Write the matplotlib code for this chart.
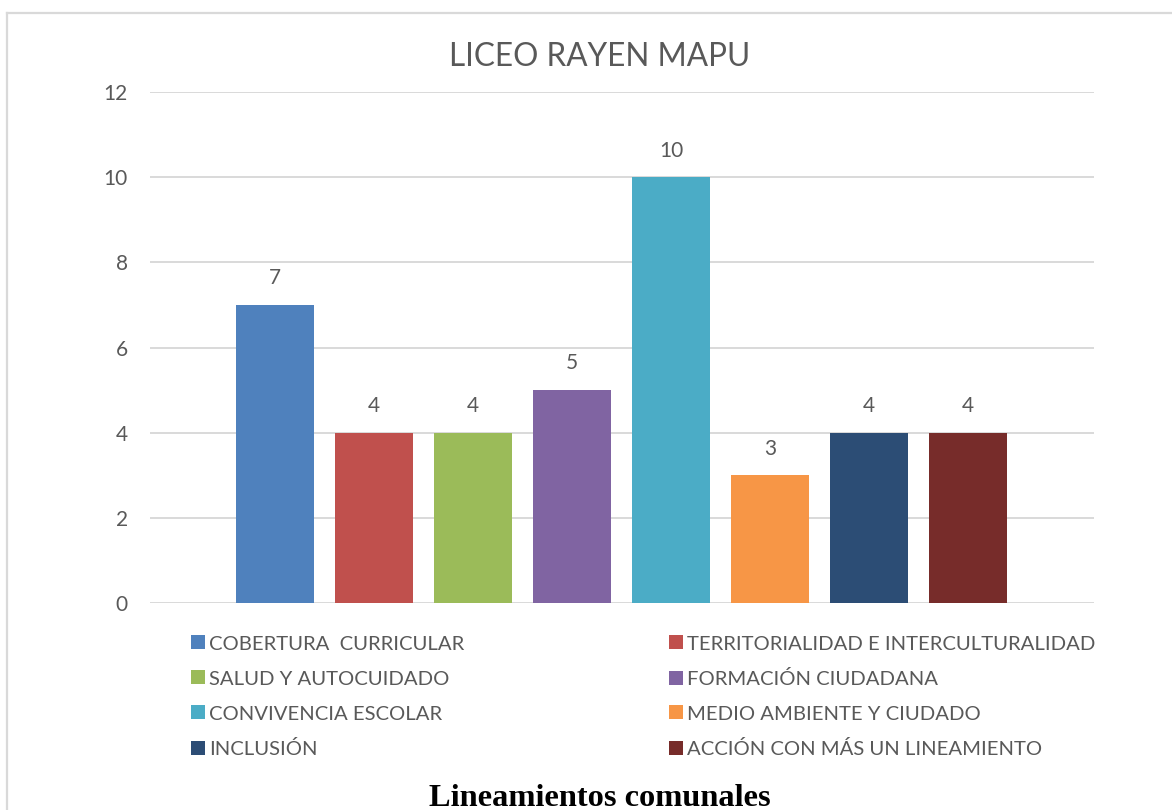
import matplotlib
matplotlib.use('Agg')
import matplotlib.pyplot as plt
from matplotlib.lines import Line2D

# data
labels = ['COBERTURA  CURRICULAR', 'TERRITORIALIDAD E INTERCULTURALIDAD',
          'SALUD Y AUTOCUIDADO', 'FORMACIÓN CIUDADANA',
          'CONVIVENCIA ESCOLAR', 'MEDIO AMBIENTE Y CIUDADO',
          'INCLUSIÓN', 'ACCIÓN CON MÁS UN LINEAMIENTO']
values = [7, 4, 4, 5, 10, 3, 4, 4]
colors = ['#4F81BD', '#C0504D', '#9BBB59', '#8064A2',
          '#4BACC6', '#F79646', '#2C4D75', '#772C2A']
yticks = [0, 2, 4, 6, 8, 10, 12]

txt = '#595959'
grid = '#D9D9D9'
plt.rcParams['font.family'] = ['Lato', 'DejaVu Sans']

W, H = 1172, 810
fig = plt.figure(figsize=(W / 100, H / 100), dpi=100)
ax = fig.add_axes([150 / W, 1 - 603 / H, 944 / W, 511 / H])

bars = []
for i in range(len(values)):
    b = ax.bar(i, values[i], width=0.787, color=colors[i], label=labels[i], zorder=3)
    bars.append(b)
    ax.bar_label(b, fontsize=15, color=txt, padding=12)

ax.set_xlim(-1.26, 8.27)
ax.set_ylim(0, 12)
ax.set_yticks(yticks)
ax.set_xticks([])
ax.tick_params(axis='y', length=0, pad=16, labelsize=15, labelcolor=txt)
for s in ax.spines.values():
    s.set_visible(False)
ax.grid(axis='y', color=grid, linewidth=1.4, zorder=0)
ax.set_axisbelow(True)

# legend: two columns filled row by row, one small legend per entry so rows line up
col_x = [191, 669]
row_y = [644, 679, 714, 749]
for i in range(len(labels)):
    fig.legend([bars[i][0]], [labels[i]], loc='center left',
               bbox_to_anchor=(col_x[i % 2] / W, 1 - row_y[i // 2] / H),
               frameon=False, fontsize=14.6, labelcolor=txt,
               handlelength=0.67, handleheight=0.67, handletextpad=0.2,
               borderpad=0, borderaxespad=0)

fig.text(600 / W, 1 - 57 / H, 'LICEO RAYEN MAPU', ha='center', va='center',
         fontsize=22.7, color=txt)
fig.text(600 / W, 1 - 806 / H, 'Lineamientos comunales', ha='center', va='baseline',
         fontsize=23.3, fontweight='bold', family=['Liberation Serif', 'DejaVu Serif'],
         color='black')

# chart area border (left and top edges visible)
fig.add_artist(Line2D([7 / W, 7 / W], [0, 1 - 13 / H], color=grid, linewidth=1.6,
                      transform=fig.transFigure))
fig.add_artist(Line2D([7 / W, 1], [1 - 13 / H, 1 - 13 / H], color=grid, linewidth=1.6,
                      transform=fig.transFigure))

fig.savefig('out.png', dpi=100)
